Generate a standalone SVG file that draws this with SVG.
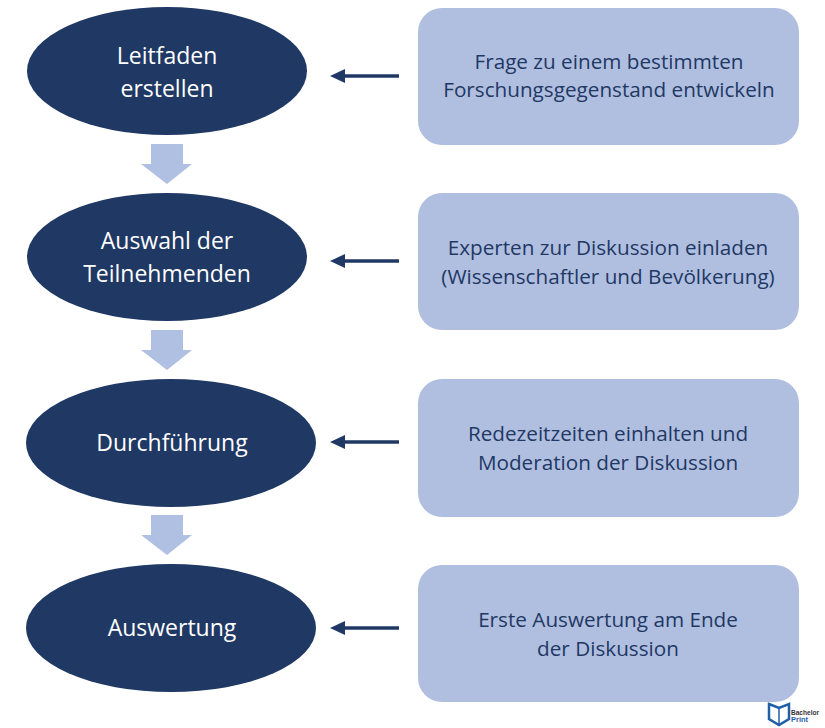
<svg xmlns="http://www.w3.org/2000/svg" width="825" height="728" viewBox="0 0 825 728">
<style>
.e{fill:#1f3864}
.r{fill:#b0bfe0}
.d{fill:#b0c0e2}
.t{font-family:"Open Sans","Liberation Sans",sans-serif;text-anchor:middle}
.w{fill:#fff;font-size:23px}
.b{fill:#1f3864;font-size:20.7px}
.s{stroke:#1f3864;stroke-width:3.5;fill:none}
.m{font-family:"Liberation Sans",sans-serif;font-size:6.5px;font-weight:bold}
</style>
<rect width="825" height="728" fill="#fff"/>
<g id="connectors">
<path class="d" d="M151 144H183V164H192L167 184L141 164H151Z"/>
<path class="d" d="M151 330H183V350H192L167 370L141 350H151Z"/>
<path class="d" d="M151 515H183V535H192L167 555L141 535H151Z"/>
<path class="s" d="M399 76H345"/><path d="M330 76L345 69V83Z" class="e"/>
<path class="s" d="M399 261H345"/><path d="M330 261L345 254V268Z" class="e"/>
<path class="s" d="M399 442H345"/><path d="M330 442L345 435V449Z" class="e"/>
<path class="s" d="M399 628H345"/><path d="M330 628L345 621V635Z" class="e"/>
</g>
<g id="n1"><ellipse class="e" cx="167" cy="71" rx="140" ry="64"/><text class="t w" x="167" y="64">Leitfaden</text><text class="t w" x="167" y="97">erstellen</text></g>
<g id="n2"><ellipse class="e" cx="167" cy="257" rx="140" ry="64"/><text class="t w" x="167" y="249">Auswahl der</text><text class="t w" x="167" y="282">Teilnehmenden</text></g>
<g id="n3"><ellipse class="e" cx="171" cy="443" rx="145" ry="64"/><text class="t w" x="172" y="451">Durchführung</text></g>
<g id="n4"><ellipse class="e" cx="171" cy="628" rx="145" ry="64"/><text class="t w" x="172" y="636">Auswertung</text></g>
<g id="b1"><rect class="r" x="418" y="8" width="381" height="137" rx="24"/><text class="t b" x="609" y="69">Frage zu einem bestimmten</text><text class="t b" x="609" y="97">Forschungsgegenstand entwickeln</text></g>
<g id="b2"><rect class="r" x="418" y="193" width="381" height="137" rx="24"/><text class="t b" x="608" y="255">Experten zur Diskussion einladen</text><text class="t b" x="608" y="284">(Wissenschaftler und Bevölkerung)</text></g>
<g id="b3"><rect class="r" x="418" y="379" width="381" height="138" rx="24"/><text class="t b" x="608" y="441">Redezeitzeiten einhalten und</text><text class="t b" x="608" y="470">Moderation der Diskussion</text></g>
<g id="b4"><rect class="r" x="418" y="565" width="381" height="137" rx="24"/><text class="t b" x="608" y="627">Erste Auswertung am Ende</text><text class="t b" x="608" y="656">der Diskussion</text></g>
<g id="logo"><path d="M769 704L779 708L789 704V719L779 725L769 719Z" fill="#fff" stroke="#1f5fa8" stroke-width="2.5"/><path d="M779 708V724" stroke="#1f5fa8" stroke-width="1.5"/><text class="m" x="791" y="715" fill="#333" textLength="28" lengthAdjust="spacingAndGlyphs">Bachelor</text><text class="m" x="791" y="722" fill="#1f5fa8" textLength="17" lengthAdjust="spacingAndGlyphs">Print</text></g>
</svg>
